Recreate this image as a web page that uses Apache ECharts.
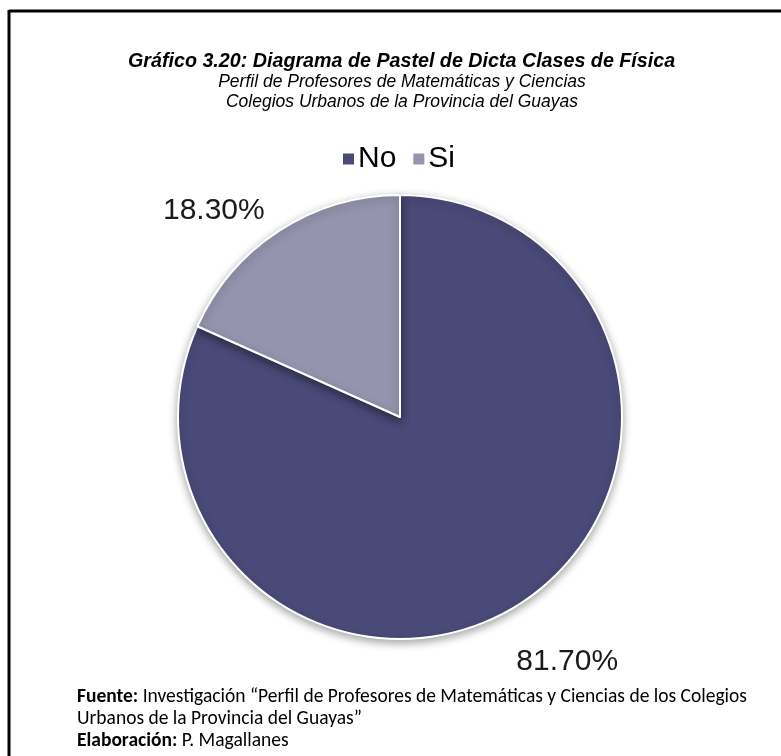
<!DOCTYPE html>
<html>
<head>
<meta charset="utf-8">
<script src="https://cdn.jsdelivr.net/npm/echarts@6/dist/echarts.min.js"></script>
<style>
html,body{margin:0;padding:0;background:#fff;}
#chart{width:781px;height:756px;}
</style>
</head>
<body>
<div id="chart"></div>
<script>
const categories = ['No', 'Si'];
const values = [81.7, 18.3];
const colors = ['#4a4a78', '#9494ae'];
const titleText = 'Gráfico 3.20: Diagrama de Pastel de Dicta Clases de Física';
const subtitleLines = ['Perfil de Profesores de Matemáticas y Ciencias', 'Colegios Urbanos de la Provincia del Guayas'];
const footerLines = [
  ['Fuente:', ' Investigación “Perfil de Profesores de Matemáticas y Ciencias de los Colegios'],
  ['', 'Urbanos de la Provincia del Guayas”'],
  ['Elaboración:', ' P. Magallanes']
];

const sans = "'Liberation Sans', Arial, sans-serif";
const footFont = "Carlito, Calibri, Lato, 'Open Sans', sans-serif";

const chart = echarts.init(document.getElementById('chart'));
chart.setOption({
  backgroundColor: '#fff',
  animation: false,
  color: colors,
  title: [
    {
      text: titleText,
      left: 123,
      top: 47,
      textStyle: { fontFamily: sans, fontSize: 19.7, fontWeight: 'bold', fontStyle: 'italic', color: '#000' }
    },
    {
      text: subtitleLines.join('\n'),
      left: 397,
      textAlign: 'center',
      top: 67,
      textStyle: { fontFamily: sans, fontSize: 17.5, fontWeight: 'normal', fontStyle: 'italic', color: '#000', lineHeight: 20, align: 'center' }
    },
    {
      text: footerLines.map(l => (l[0] ? '{b|' + l[0] + '}' : '') + '{n|' + l[1] + '}').join('\n'),
      left: 72,
      top: 681,
      textStyle: {
        fontFamily: footFont, fontSize: 19.5, color: '#000', lineHeight: 22,
        rich: {
          b: { fontFamily: footFont, fontSize: 19.5, fontWeight: 'bold', color: '#000', lineHeight: 22 },
          n: { fontFamily: footFont, fontSize: 19.5, fontWeight: 'normal', color: '#000', lineHeight: 22 }
        }
      }
    }
  ],
  legend: {
    data: categories,
    left: 336,
    top: 139,
    icon: 'rect',
    itemWidth: 13,
    itemHeight: 13,
    itemGap: 15,
    textStyle: { fontFamily: sans, fontSize: 30, color: '#000', padding: [0, 0, 0, -2] }
  },
  graphic: [
    { type: 'line', shape: { x1: 9, y1: 11, x2: 781, y2: 11 }, style: { stroke: '#000', lineWidth: 3 } },
    { type: 'line', shape: { x1: 9, y1: 10, x2: 9, y2: 756 }, style: { stroke: '#000', lineWidth: 3 } }
  ],
  series: [{
    type: 'pie',
    center: [400, 417],
    radius: 222,
    startAngle: 90,
    clockwise: true,
    data: categories.map((c, i) => ({ name: c, value: values[i] })),
    itemStyle: {
      borderColor: '#fff',
      borderWidth: 2,
      shadowBlur: 8,
      shadowColor: 'rgba(0,0,0,0.35)',
      shadowOffsetY: 3
    },
    label: {
      show: true,
      position: 'outside',
      formatter: p => p.value.toFixed(2) + '%',
      fontFamily: sans,
      fontSize: 30,
      color: '#1a1a1a'
    },
    labelLine: { show: false, length: 25, length2: 0 },
    labelLayout: function (params) {
      if (params.dataIndex === 0) return { dx: -23, dy: 37 };
      return { dx: 4, dy: 1 };
    },
    emphasis: { disabled: true }
  }]
});
</script>
</body>
</html>
